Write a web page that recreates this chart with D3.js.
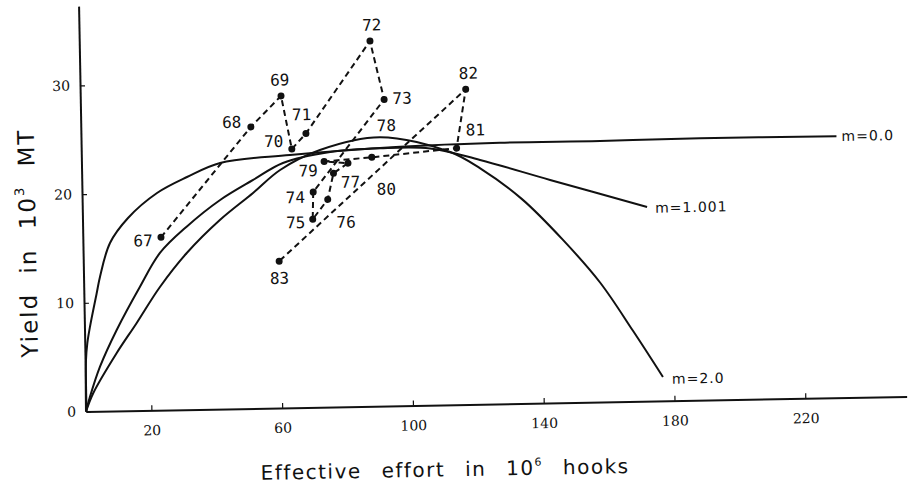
<!DOCTYPE html>
<meta charset="utf-8">
<head>
  <script src="https://d3js.org/d3.v7.min.js"></script>
  <style>
    body { margin: 0; background: #fff; }
    .tick text { font-family: "DejaVu Serif", serif; font-size: 14px; fill: #111; }
    .yr { font-family: "DejaVu Sans Mono", monospace; font-size: 16px; fill: #111; }
    .mlab { font-family: "DejaVu Sans", sans-serif; font-size: 14px; letter-spacing: 1px; fill: #111; }
    .title { font-family: "DejaVu Sans", sans-serif; fill: #111; }
  </style>
</head>
<body>
<svg id="chart" width="911" height="484"></svg>
<script>
// observed catch by year (effort in 10^6 hooks, yield in 10^3 MT)
var years  = ["67","68","69","70","71","72","73","74","75","76","77","78","79","80","81","82","83"];
var effort = [23.9, 52.0, 61.4, 64.4, 68.8, 88.9, 92.9, 70.7, 70.4, 75.1, 77.0, 81.5, 74.2, 88.8, 114.8, 117.9, 59.9];
var yields = [15.9, 25.9, 28.7, 23.8, 25.2, 33.6, 28.2, 19.8, 17.3, 19.1, 21.5, 22.4, 22.6, 22.9, 23.6, 29.0, 13.5];

// equilibrium curves
var m0Effort = [0, 0.29, 0.78, 1.7, 3.93, 5.04, 8.28, 13.93, 22.94, 32.2, 42.4, 63.8, 97.5, 128.1, 158.7, 189.3, 231.0];
var m0Yield  = [0, 4.74, 6.27, 7.8, 10.86, 12.38, 15.46, 17.73, 19.98, 21.4, 22.64, 23.25, 23.83, 24.03, 24.02, 24.1, 24.05];
var m1Effort = [0, 1.31, 4.53, 9.84, 17.2, 23.5, 31.8, 42.2, 52.4, 61.6, 76.1, 91.4, 106.7, 121.9, 143.2, 172.7];
var m1Yield  = [0, 1.36, 4.10, 7.45, 11.39, 14.46, 16.83, 19.23, 21.02, 22.53, 23.46, 23.72, 23.62, 22.47, 20.52, 17.87];
var m2Effort = [0, 2.34, 9.72, 16.0, 23.3, 31.7, 42.0, 52.3, 60.7, 73.0, 91.4, 112.8, 121.9, 134.5, 146.8, 157.9, 167.7, 176.6];
var m2Yield  = [0, 1.69, 5.33, 8.06, 11.33, 14.41, 17.39, 19.82, 21.89, 23.66, 24.73, 23.26, 21.7, 18.8, 14.98, 11.0, 6.5, 2.2];
var curveNames = ["m=0.0", "m=1.001", "m=2.0"];

var xTicks = [20, 60, 100, 140, 180, 220];
var yTicks = [0, 10, 20, 30];

// where each year label sits relative to its dot (px)
var labelOffset = [[-18,3],[-19,-5],[-1,-16],[-18,-8],[-4,-19],[2,-16],[18,-1],[-18,5],[-17,3],
                   [18,23],[17,9],[39,-37],[-16,9],[14,32],[19,-18],[3,-16],[0,17]];
var curveLabelOffset = [[5,0],[8,1],[9,2]];

var svg = d3.select("#chart");

var x = d3.scaleLinear().domain([0, 251]).range([86, 86 + 251 * 3.27]);
var y = d3.scaleLinear().domain([0, 37.3]).range([411.5, 411.5 - 37.3 * 10.87]);

// the scanned figure is slightly tilted
var g = svg.append("g").attr("transform", "rotate(-1.05, 86.5, 411.5)");

var yAxis = g.append("g")
    .attr("transform", "translate(" + x(0) + ",0)")
    .call(d3.axisLeft(y).tickValues(yTicks).tickSizeInner(-5).tickSizeOuter(0).tickPadding(10));
var xAxis = g.append("g")
    .attr("transform", "translate(0," + y(0) + ")")
    .call(d3.axisBottom(x).tickValues(xTicks).tickSizeInner(-5).tickSizeOuter(0).tickPadding(15));
[xAxis, yAxis].forEach(function(a) {
  a.select(".domain").attr("stroke", "#111").attr("stroke-width", 2);
  a.selectAll(".tick line").attr("stroke", "#111").attr("stroke-width", 1.2);
});

var line = d3.line()
    .x(function(d) { return x(d[0]); })
    .y(function(d) { return y(d[1]); })
    .curve(d3.curveCatmullRom.alpha(0.5));

var curves = [d3.zip(m0Effort, m0Yield), d3.zip(m1Effort, m1Yield), d3.zip(m2Effort, m2Yield)];

g.selectAll(".eq")
  .data(curves)
  .enter().append("path")
    .attr("class", "eq")
    .attr("d", line)
    .attr("fill", "none")
    .attr("stroke", "#111")
    .attr("stroke-width", 2);

g.selectAll(".mlab")
  .data(curves)
  .enter().append("text")
    .attr("class", "mlab")
    .attr("x", function(d, i) { return x(d[d.length - 1][0]) + curveLabelOffset[i][0]; })
    .attr("y", function(d, i) { return y(d[d.length - 1][1]) + curveLabelOffset[i][1]; })
    .attr("dy", "0.35em")
    .text(function(d, i) { return curveNames[i]; });

var obs = d3.zip(effort, yields);

g.append("path")
    .attr("d", d3.line().x(function(d) { return x(d[0]); }).y(function(d) { return y(d[1]); })(obs))
    .attr("fill", "none")
    .attr("stroke", "#111")
    .attr("stroke-width", 2)
    .attr("stroke-dasharray", "6,4");

g.selectAll(".dot")
  .data(obs)
  .enter().append("circle")
    .attr("class", "dot")
    .attr("cx", function(d) { return x(d[0]); })
    .attr("cy", function(d) { return y(d[1]); })
    .attr("r", 3.5)
    .attr("fill", "#111");

g.selectAll(".yr")
  .data(obs)
  .enter().append("text")
    .attr("class", "yr")
    .attr("x", function(d, i) { return x(d[0]) + labelOffset[i][0]; })
    .attr("y", function(d, i) { return y(d[1]) + labelOffset[i][1]; })
    .attr("dy", "0.35em")
    .attr("text-anchor", "middle")
    .text(function(d, i) { return years[i]; });

// axis titles
var xt = g.append("text")
    .attr("class", "title")
    .attr("x", 444).attr("y", 483)
    .attr("text-anchor", "middle")
    .style("font-size", "20px")
    .style("letter-spacing", "1.5px")
    .style("word-spacing", "12px");
xt.append("tspan").text("Effective effort in 10");
xt.append("tspan").attr("dy", -9).style("font-size", "11px").text("6");
xt.append("tspan").attr("dy", 9).text(" hooks");

var yt = g.append("text")
    .attr("class", "title")
    .attr("transform", "translate(39,242) rotate(-90)")
    .attr("text-anchor", "middle")
    .style("font-size", "23px")
    .style("letter-spacing", "2px")
    .style("word-spacing", "10px");
yt.append("tspan").text("Yield in 10");
yt.append("tspan").attr("dy", -11).style("font-size", "13px").text("3");
yt.append("tspan").attr("dy", 11).text(" MT");
</script>
</body>
